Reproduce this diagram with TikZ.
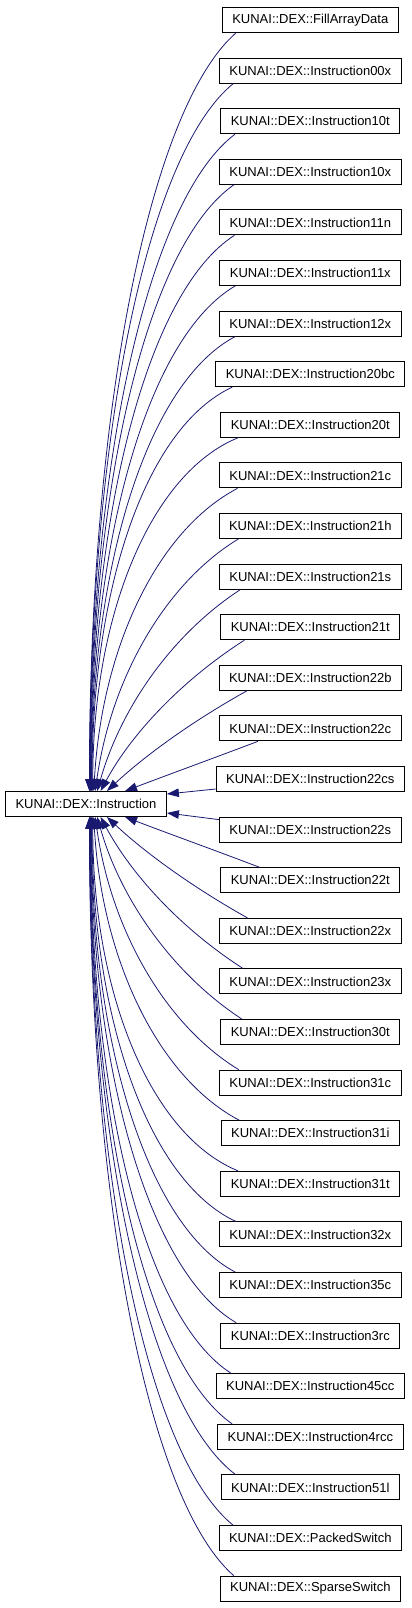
\documentclass[tikz,border=0pt]{standalone}
\usepackage{fontspec}
\setmainfont{Liberation Sans}
\usepackage{xcolor}
\usetikzlibrary{positioning,arrows.meta,calc}
\definecolor{edgeblue}{HTML}{191970}

\begin{document}
\begin{tikzpicture}[x=1pt, y=-1pt,
  every node/.style={font=\fontsize{13}{15}\selectfont},
  classbox/.style={draw=black, line width=0.9pt, fill=white, minimum height=25pt, inner xsep=10pt, inner ysep=0pt},
  inherit/.style={draw=edgeblue, line width=0.8pt, -{Triangle[length=12pt,width=8.5pt]}}]
\useasboundingbox (0,0) rectangle (412,1608);
% Base class on the left
\node[classbox] (instr) at (86,804) {KUNAI::DEX::Instruction};

% Derived classes stacked on the right
\foreach \cname [count=\i from 0] in {FillArrayData, Instruction00x, Instruction10t,
  Instruction10x, Instruction11n, Instruction11x, Instruction12x, Instruction20bc,
  Instruction20t, Instruction21c, Instruction21h, Instruction21s, Instruction21t,
  Instruction22b, Instruction22c, Instruction22cs, Instruction22s, Instruction22t,
  Instruction22x, Instruction23x, Instruction30t, Instruction31c, Instruction31i,
  Instruction31t, Instruction32x, Instruction35c, Instruction3rc, Instruction45cc,
  Instruction4rcc, Instruction51l, PackedSwitch, SparseSwitch} {
  \node[classbox] (c\i) at (310.3,20+50.6*\i) {KUNAI::DEX::\cname};
}

% Edges from the classes above the base
\foreach \i in {0,...,14} {
  \pgfmathsetmacro\d{abs(\i-15.5)}
  \pgfmathsetmacro\w{min(1,(\d-1.5)/6)}
  \pgfmathsetmacro\off{8+31/((\d-0.5)^0.6)}
  \pgfmathsetmacro\ex{39/((\d-0.5)^0.9)}
  \pgfmathsetmacro\dx{134+\off-\ex}
  \pgfmathsetmacro\dy{abs(20+50.6*\i-804)-25}
  \pgfmathsetmacro\ax{-\dx*(0.333+0.267*\w)}
  \pgfmathsetmacro\ay{\dy*(0.333-0.233*\w)}
  \pgfmathsetmacro\bx{\dx*0.333*(1-\w)}
  \pgfmathsetmacro\by{-\dy*(0.333+0.167*\w)}
  \draw[inherit] ($(c\i.south west)+(\off,0)$) .. controls +(\ax,\ay) and +(\bx,\by) .. ($(instr.north)+(\ex,0)$);
}
% Edges from the classes below the base
\foreach \i in {17,...,31} {
  \pgfmathsetmacro\d{abs(\i-15.5)}
  \pgfmathsetmacro\w{min(1,(\d-1.5)/6)}
  \pgfmathsetmacro\off{8+31/((\d-0.5)^0.6)}
  \pgfmathsetmacro\ex{39/((\d-0.5)^0.9)}
  \pgfmathsetmacro\dx{134+\off-\ex}
  \pgfmathsetmacro\dy{abs(20+50.6*\i-804)-25}
  \pgfmathsetmacro\ax{-\dx*(0.333+0.267*\w)}
  \pgfmathsetmacro\ay{-\dy*(0.333-0.233*\w)}
  \pgfmathsetmacro\bx{\dx*0.333*(1-\w)}
  \pgfmathsetmacro\by{\dy*(0.333+0.167*\w)}
  \draw[inherit] ($(c\i.north west)+(\off,0)$) .. controls +(\ax,\ay) and +(\bx,\by) .. ($(instr.south)+(\ex,0)$);
}
% The two beside the base
\draw[inherit] ($(c15.west)+(0,10)$) -- ($(instr.east)+(0,-10)$);
\draw[inherit] ($(c16.west)+(0,-10)$) -- ($(instr.east)+(0,9)$);
\end{tikzpicture}
\end{document}
